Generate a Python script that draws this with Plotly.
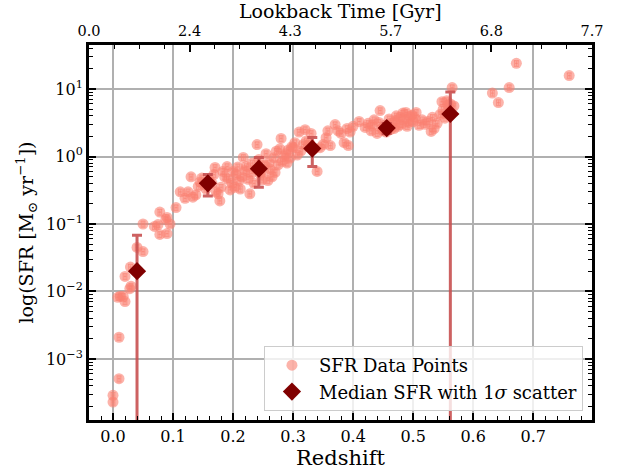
import plotly.graph_objects as go
import numpy as np

# ---------------- data ----------------
z_low = [0.000, 0.000, 0.010, 0.010, 0.008, 0.012, 0.017, 0.020, 0.028, 0.030, 0.020, 0.029,
         0.040, 0.050, 0.050, 0.069, 0.075, 0.078, 0.078, 0.090, 0.090, 0.088, 0.095]
sfr_low = [0.00029, 0.00023, 0.00051, 0.0021, 0.0082, 0.0085, 0.0085, 0.0071, 0.011, 0.012, 0.0167, 0.023,
           0.045, 0.039, 0.100, 0.092, 0.098, 0.070, 0.150, 0.072, 0.125, 0.117, 0.100]

z_b = [0.105, 0.112, 0.12, 0.125, 0.13, 0.133, 0.138, 0.142, 0.145, 0.148, 0.152, 0.155, 0.16,
       0.165, 0.168, 0.17, 0.172, 0.175, 0.178, 0.18, 0.183, 0.186, 0.19, 0.192, 0.195, 0.198]
sfr_b = [0.175, 0.30, 0.24, 0.30, 0.50, 0.25, 0.27, 0.36, 0.42, 0.48, 0.38, 0.33, 0.45,
         0.40, 0.54, 0.69, 0.30, 0.28, 0.22, 0.35, 0.60, 0.50, 0.71, 0.46, 0.32, 0.40]

z_c = [0.200, 0.203, 0.205, 0.208, 0.21, 0.212, 0.215, 0.217, 0.22, 0.222, 0.225, 0.228, 0.23,
       0.232, 0.235, 0.238, 0.24, 0.243, 0.245, 0.248, 0.25, 0.252, 0.255, 0.258, 0.26, 0.262,
       0.265, 0.268, 0.27, 0.272, 0.275, 0.278, 0.28, 0.282, 0.285, 0.288, 0.29, 0.292, 0.295, 0.298]
sfr_c = [0.60, 0.35, 0.54, 0.70, 0.44, 0.33, 0.50, 0.97, 0.62, 0.71, 0.46, 0.28, 0.56,
         0.80, 0.40, 0.65, 1.50, 0.90, 0.55, 0.45, 0.60, 0.75, 1.10, 0.44, 0.80, 0.65,
         0.50, 0.96, 0.58, 1.20, 0.75, 1.30, 1.85, 0.85, 1.00, 1.10, 0.80, 1.25, 0.95, 1.40]

z_d = [0.30, 0.303, 0.307, 0.31, 0.313, 0.317, 0.32, 0.322, 0.325, 0.328, 0.33, 0.335, 0.34,
       0.345, 0.35, 0.355, 0.358, 0.362, 0.37, 0.375, 0.38, 0.385, 0.39, 0.392, 0.395]
sfr_d = [1.35, 1.60, 1.05, 2.30, 1.20, 1.50, 2.50, 1.70, 1.40, 1.55, 2.20, 1.30, 0.60,
         1.35, 1.50, 1.90, 2.40, 1.45, 2.97, 2.40, 2.20, 1.60, 2.60, 1.45, 2.30]

z_e = [0.40, 0.41, 0.42, 0.425, 0.43, 0.432, 0.435, 0.44, 0.443, 0.445, 0.448, 0.45, 0.452,
       0.455, 0.458, 0.46, 0.462, 0.465, 0.468, 0.47, 0.472, 0.475, 0.478, 0.48, 0.483, 0.485,
       0.488, 0.49, 0.492, 0.495, 0.498, 0.50, 0.503, 0.505, 0.51, 0.515, 0.52, 0.525, 0.53,
       0.532, 0.535, 0.54, 0.545, 0.548, 0.55, 0.553, 0.556, 0.558, 0.56, 0.562, 0.565, 0.568]
sfr_e = [2.80, 3.30, 2.70, 3.10, 2.40, 2.90, 3.50, 2.20, 3.20, 4.80, 2.60, 2.40, 2.90,
         2.30, 2.70, 3.60, 2.50, 3.10, 2.60, 3.40, 4.00, 2.80, 3.80, 3.00, 4.40, 3.60,
         4.50, 2.80, 3.20, 3.90, 4.10, 3.30, 3.70, 4.50, 2.90, 3.50, 3.00, 3.30, 2.35,
         3.80, 2.60, 3.10, 4.20, 6.50, 5.00, 3.70, 6.70, 5.80, 5.20, 6.00, 10.5, 5.60]

z_f = [0.632, 0.642, 0.660, 0.672, 0.760]
sfr_f = [8.7, 6.3, 10.5, 24.0, 15.8]

z_all = z_low + z_b + z_c + z_d + z_e + z_f
sfr_all = sfr_low + sfr_b + sfr_c + sfr_d + sfr_e + sfr_f
sfr_err_pct = 10.0      # percent
z_err = 0.003

med_z = [0.040, 0.158, 0.243, 0.332, 0.456, 0.562]
med_sfr = [0.020, 0.40, 0.66, 1.31, 2.64, 4.26]
med_err = [0.048, 0.14, 0.31, 0.60, 0.45, 4.77]

top_ticktext = ["0.0", "2.4", "4.3", "5.7", "6.8", "7.7"]
y_decades = [-3, -2, -1, 0, 1]

# ---------------- figure ----------------
FONT = "DejaVu Serif"
salmon = "rgba(250,128,114,0.6)"

fig = go.Figure()

fig.add_trace(go.Scatter(
    x=z_all, y=sfr_all, mode="markers", name="SFR Data Points",
    marker=dict(color=salmon, size=11, line=dict(width=0)),
    error_y=dict(type="percent", value=sfr_err_pct, color=salmon, thickness=1.2, width=2.5),
    error_x=dict(type="constant", value=z_err, color=salmon, thickness=1.2, width=2.5),
))

fig.add_trace(go.Scatter(
    x=med_z, y=med_sfr, mode="markers", name="Median SFR with 1<i>σ</i> scatter",
    marker=dict(color="#800000", size=14, symbol="diamond", line=dict(width=0)),
    error_y=dict(type="data", array=med_err, color="rgba(200,80,80,0.9)", thickness=3, width=5),
))

# dummy trace to create the top axis
fig.add_trace(go.Scatter(x=[0, 1], y=[None, None], xaxis="x2", showlegend=False,
                         mode="markers", hoverinfo="skip"))

minor_vals = []
for d in range(-4, 2):
    for k in range(2, 10):
        minor_vals.append(k * 10.0 ** d)

PLOT_H = 475 - 45 - 55

fig.update_layout(
    width=622, height=475,
    margin=dict(l=89, r=30, t=45, b=55, autoexpand=False),
    paper_bgcolor="white", plot_bgcolor="white",
    font=dict(family=FONT, color="black", size=17),
    showlegend=True,
    legend=dict(x=0.982, y=0.024, xanchor="right", yanchor="bottom",
                bgcolor="rgba(255,255,255,0.8)", bordercolor="#cccccc", borderwidth=1,
                font=dict(family=FONT, size=18), tracegroupgap=0, itemwidth=44),
    xaxis=dict(
        range=[-0.04, 0.798], tickvals=[0.0, 0.1, 0.2, 0.3, 0.4, 0.5, 0.6, 0.7],
        ticktext=["0.0", "0.1", "0.2", "0.3", "0.4", "0.5", "0.6", "0.7"],
        ticks="inside", ticklen=7, tickwidth=1.5, tickcolor="black",
        minor=dict(ticks="inside", ticklen=4, tickwidth=1, tickcolor="black", dtick=0.02, tick0=0, showgrid=False),
        showgrid=True, gridcolor="#b0b0b0", gridwidth=1.5,
        showline=True, linewidth=3, linecolor="black", mirror=False,
        zeroline=False, automargin=False,
        title=dict(text="Redshift", font=dict(size=21, family=FONT), standoff=4),
        tickfont=dict(size=16, family=FONT),
    ),
    xaxis2=dict(
        overlaying="x", side="top", anchor="y", range=[0, 1],
        tickvals=[0, 0.2, 0.4, 0.6, 0.8, 1.0], ticktext=top_ticktext,
        ticks="inside", ticklen=7, tickwidth=1.5, tickcolor="black",
        minor=dict(ticks="inside", ticklen=4, tickwidth=1, tickcolor="black", dtick=0.05, tick0=0, showgrid=False),
        showgrid=False, showline=True, linewidth=3, linecolor="black", zeroline=False,
        automargin=False,
        tickfont=dict(size=14.5, family=FONT),
    ),
    yaxis=dict(
        type="log", range=[-3.904, 1.652],
        tickvals=[10.0 ** d for d in y_decades],
        ticktext=[f"10<sup>{'−' + str(-d) if d < 0 else d}</sup>" for d in y_decades],
        ticks="inside", ticklen=7, tickwidth=1.5, tickcolor="black",
        minor=dict(ticks="inside", ticklen=4, tickwidth=1, tickcolor="black",
                   tickmode="array", tickvals=minor_vals, showgrid=False),
        showgrid=True, gridcolor="#b0b0b0", gridwidth=1.5,
        showline=True, linewidth=3, linecolor="black", mirror="ticks",
        zeroline=False, automargin=False,
        title=dict(text="log(SFR [M<sub>⊙</sub> yr<sup>−1</sup>])", font=dict(size=19, family=FONT), standoff=8),
        tickfont=dict(size=16, family=FONT),
    ),
    annotations=[dict(
        text="Lookback Time [Gyr]", xref="paper", yref="paper", x=0.5, y=1 + 45 / PLOT_H,
        xanchor="center", yanchor="top", showarrow=False, borderpad=0, yshift=1,
        font=dict(size=19, family=FONT, color="black"),
    )],
)

fig.write_html("out.html")
